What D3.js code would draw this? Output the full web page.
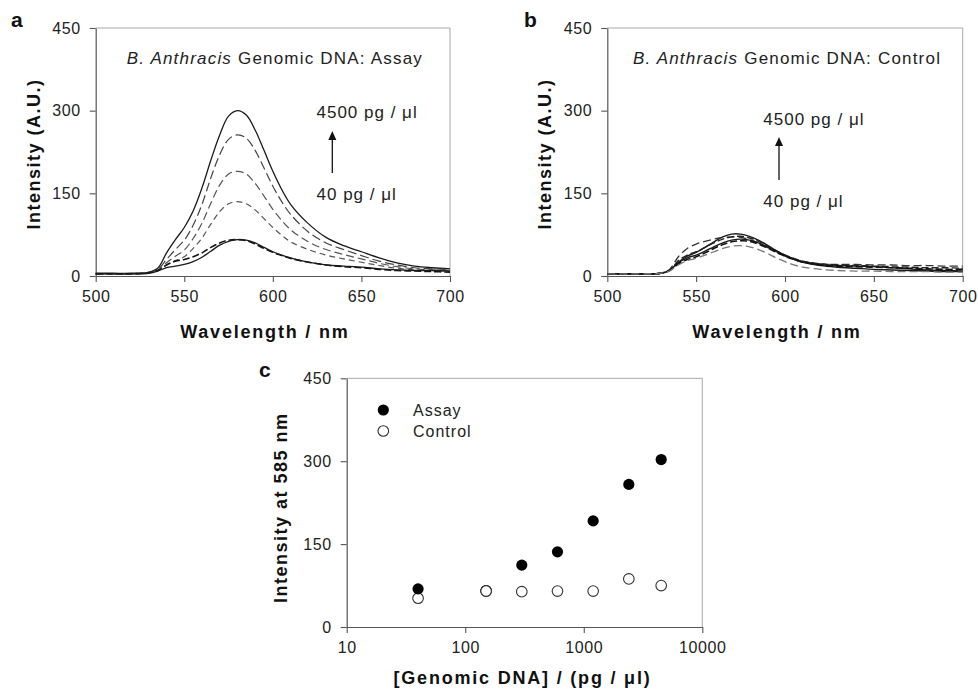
<!DOCTYPE html>
<html>
<head>
<meta charset="utf-8">
<script src="https://cdn.jsdelivr.net/npm/d3@7"></script>
<style>
  html, body { margin: 0; padding: 0; background: #fff; }
  svg { display: block; font-family: Arial, "Liberation Sans", sans-serif; }
</style>
</head>
<body>
<svg id="chart" width="978" height="690"></svg>
<script>
// ---------- DATA ----------
const wavelengths = [500,510,520,530,535,540,545,550,555,560,565,570,575,580,585,590,595,600,605,610,620,630,640,650,660,670,680,690,700];

// Panel a: assay spectra
const assay4500 = [5,5,5,7,14,42,66,88,118,160,210,256,290,300,292,265,228,190,157,130,95,70,55,44,33,24,18,15,13];
const assay2400 = [4,4,4,6,12,30,48,65,92,130,178,220,248,256,250,228,196,163,135,112,80,60,48,37,27,20,15,13,12];
const assay1200 = [4,4,4,6,11,24,36,47,68,96,132,165,185,190,185,168,145,121,101,84,62,48,39,31,23,17,13,11,10];
const assay600  = [4,4,4,6,10,20,28,35,50,69,94,117,131,135,131,120,104,88,74,62,48,38,31,25,19,14,11,10,9];
const assay150  = [4,4,4,6,10,20,27,30,35,42,52,60,65,66,64,58,50,43,37,32,25,20,17,15,12,10,9,8,7];
const assay40   = [4,4,4,5,9,15,18,21,26,34,45,56,63,66,65,60,52,44,38,33,25,20,18,16,13,11,10,10,9];

// Panel b: control spectra
const control4500 = [4,4,4,5,10,25,36,43,52,62,71,76,76,72,65,56,46,38,31,26,21,19,18,17,15,13,11,10,9];
const control2400 = [4,4,4,5,12,35,50,58,63,67,70,71,70,66,60,52,44,36,30,26,22,21,21,20,20,19,19,18,18];
const control1200 = [4,4,4,5,10,28,38,44,52,60,67,71,72,69,63,55,46,38,32,27,22,20,19,18,17,16,15,15,14];
const control600  = [4,4,4,5,10,24,33,38,45,53,60,65,67,65,60,53,45,37,30,25,19,16,14,12,11,10,9,8,8];
const control150  = [4,4,4,5,10,22,30,35,42,50,57,62,64,63,58,51,43,36,30,25,20,18,17,16,15,14,13,12,12];
const control40   = [4,4,4,5,9,20,28,32,38,44,50,54,55,53,48,41,33,26,20,16,12,10,9,9,8,8,8,7,7];

// Panel c: intensity at 585 nm
const concentrations = [40,150,300,600,1200,2400,4500];
const assayPeak   = [69,66,112,136,192,258,303];
const controlPeak = [52,65,64,65,65,87,75];

// Tick labels
const spectraXTicks = [500,550,600,650,700];
const intensityTicks = [0,150,300,450];
const concTicks = [10,100,1000,10000];

// ---------- STYLES ----------
const assayStyles = [
  {data: assay4500, dash: null,  color: "#1a1a1a", width: 1.3},
  {data: assay2400, dash: "9,4", color: "#444", width: 1.2},
  {data: assay1200, dash: "8,4", color: "#555", width: 1.2},
  {data: assay600,  dash: "6,4", color: "#555", width: 1.2},
  {data: assay150,  dash: "7,3", color: "#111", width: 1.6},
  {data: assay40,   dash: null,  color: "#1a1a1a", width: 1.3}
];
const controlStyles = [
  {data: control4500, dash: null,  color: "#1a1a1a", width: 1.4},
  {data: control2400, dash: "8,4", color: "#333", width: 1.3},
  {data: control1200, dash: "7,3", color: "#222", width: 1.4},
  {data: control600,  dash: null,  color: "#1a1a1a", width: 1.4},
  {data: control150,  dash: "7,3", color: "#111", width: 1.6},
  {data: control40,   dash: "8,4", color: "#777", width: 1.3}
];

const svg = d3.select("#chart");
const FONT = 'Arial, "Liberation Sans", sans-serif';

function frame(g, x0, x1, y0, y1) {
  // top and right borders gray
  g.append("path").attr("d", `M${x0},${y1}H${x1}V${y0}`)
    .attr("fill", "none").attr("stroke", "#a8a8a8").attr("stroke-width", 1);
}

function styleAxis(ax) {
  ax.select(".domain").attr("stroke", "#555").attr("stroke-width", 1.2);
  ax.selectAll(".tick line").attr("stroke", "#555").attr("stroke-width", 1.1);
  ax.selectAll(".tick text").attr("fill", "#222")
    .style("font-size", "16px").style("font-family", FONT).style("letter-spacing", "0.6px");
}

function spectraPanel(opts) {
  const {left, right, top, bottom, series, title, letter, letterX, annot} = opts;
  const g = svg.append("g");
  const x = d3.scaleLinear().domain([500, 700]).range([left, right]);
  const y = d3.scaleLinear().domain([0, 450]).range([bottom, top]);

  frame(g, left, right, bottom, top);

  const xa = g.append("g").attr("transform", `translate(0,${bottom})`)
    .call(d3.axisBottom(x).tickValues(spectraXTicks).tickSize(6).tickSizeOuter(0).tickPadding(9));
  styleAxis(xa);
  const ya = g.append("g").attr("transform", `translate(${left},0)`)
    .call(d3.axisLeft(y).tickValues(intensityTicks).tickSize(6).tickSizeOuter(0).tickPadding(9));
  styleAxis(ya);

  const line = d3.line()
    .x((d, i) => x(wavelengths[i]))
    .y(d => y(d))
    .curve(d3.curveCatmullRom.alpha(0.5));

  series.forEach(s => {
    g.append("path").attr("d", line(s.data))
      .attr("fill", "none").attr("stroke", s.color)
      .attr("stroke-width", s.width)
      .attr("stroke-dasharray", s.dash);
  });

  // title inside
  const t = g.append("text").attr("x", (left + right) / 2 + 2).attr("y", top + 36)
    .attr("text-anchor", "middle").style("font-size", "17px").style("letter-spacing", "1.2px")
    .attr("fill", "#222");
  t.append("tspan").style("font-style", "italic").text("B. Anthracis");
  t.append("tspan").text(" Genomic DNA: " + title);

  // annotations
  g.append("text").attr("x", annot.x).attr("y", annot.yTop)
    .style("font-size", "17px").style("letter-spacing", "1px").attr("fill", "#222")
    .text("4500 pg / μl");
  g.append("text").attr("x", annot.x).attr("y", annot.yBottom)
    .style("font-size", "17px").style("letter-spacing", "1px").attr("fill", "#222")
    .text("40 pg / μl");
  g.append("line").attr("x1", annot.ax).attr("x2", annot.ax)
    .attr("y1", annot.ay1).attr("y2", annot.ay0 + 7)
    .attr("stroke", "#111").attr("stroke-width", 1.3);
  g.append("path")
    .attr("d", `M${annot.ax},${annot.ay0}L${annot.ax - 4},${annot.ay0 + 9}L${annot.ax + 4},${annot.ay0 + 9}Z`)
    .attr("fill", "#111");

  // axis titles
  g.append("text").attr("x", (left + right) / 2 - 8).attr("y", bottom + 62)
    .attr("text-anchor", "middle").style("font-size", "18px").style("font-weight", "bold")
    .style("letter-spacing", "1.8px").attr("fill", "#111").text("Wavelength / nm");
  g.append("text")
    .attr("transform", `translate(${left - 56},${(top + bottom) / 2 + 2}) rotate(-90)`)
    .attr("text-anchor", "middle").style("font-size", "18px").style("font-weight", "bold")
    .style("letter-spacing", "1.5px").attr("fill", "#111").text("Intensity (A.U.)");

  // panel letter
  g.append("text").attr("x", letterX).attr("y", 27)
    .style("font-size", "21px").style("font-weight", "bold").attr("fill", "#111").text(letter);
}

spectraPanel({
  left: 95.7, right: 450, top: 28, bottom: 276,
  series: assayStyles, title: "Assay", letter: "a", letterX: 11,
  annot: {x: 316.5, yTop: 118, yBottom: 200, ax: 332.3, ay0: 131, ay1: 173}
});
spectraPanel({
  left: 607.3, right: 962.7, top: 28, bottom: 276,
  series: controlStyles, title: "Control", letter: "b", letterX: 524,
  annot: {x: 763.3, yTop: 125, yBottom: 207, ax: 779, ay0: 137, ay1: 180}
});

// ---------- Panel c ----------
(function () {
  const left = 346.7, right = 702.3, top = 378.3, bottom = 627;
  const g = svg.append("g");
  const x = d3.scaleLog().domain([10, 10000]).range([left, right]);
  const y = d3.scaleLinear().domain([0, 450]).range([bottom, top]);

  frame(g, left, right, bottom, top);

  const xa = g.append("g").attr("transform", `translate(0,${bottom})`)
    .call(d3.axisBottom(x).tickValues(concTicks).tickFormat(d3.format("d"))
      .tickSize(6).tickSizeOuter(0).tickPadding(9));
  styleAxis(xa);
  const ya = g.append("g").attr("transform", `translate(${left},0)`)
    .call(d3.axisLeft(y).tickValues(intensityTicks).tickSize(6).tickSizeOuter(0).tickPadding(9));
  styleAxis(ya);

  // control (open) then assay (filled)
  g.selectAll(".ctrl").data(concentrations).enter().append("circle")
    .attr("cx", d => x(d)).attr("cy", (d, i) => y(controlPeak[i])).attr("r", 5.3)
    .attr("fill", "#fff").attr("stroke", "#333").attr("stroke-width", 1.1);
  g.selectAll(".assay").data(concentrations).enter().append("circle")
    .attr("cx", d => x(d)).attr("cy", (d, i) => y(assayPeak[i])).attr("r", 5.6)
    .attr("fill", "#000");
  // redraw control on top where overlapping at 150 (open circle visible over filled)
  g.append("circle").attr("cx", x(concentrations[1])).attr("cy", y(controlPeak[1])).attr("r", 5.3)
    .attr("fill", "#fff").attr("stroke", "#333").attr("stroke-width", 1.1);

  // legend
  g.append("circle").attr("cx", 383.3).attr("cy", 410).attr("r", 5.6).attr("fill", "#000");
  g.append("circle").attr("cx", 383.3).attr("cy", 431).attr("r", 5.3)
    .attr("fill", "#fff").attr("stroke", "#333").attr("stroke-width", 1.1);
  g.append("text").attr("x", 413).attr("y", 416).style("font-size", "16px")
    .style("letter-spacing", "1px").attr("fill", "#222").text("Assay");
  g.append("text").attr("x", 413).attr("y", 437).style("font-size", "16px")
    .style("letter-spacing", "1px").attr("fill", "#222").text("Control");

  // axis titles
  g.append("text").attr("x", (left + right) / 2 - 2).attr("y", 684)
    .attr("text-anchor", "middle").style("font-size", "18px").style("font-weight", "bold")
    .style("letter-spacing", "1.8px").attr("fill", "#111").text("[Genomic DNA] / (pg / μl)");
  g.append("text")
    .attr("transform", `translate(${left - 60},${(top + bottom) / 2 + 5}) rotate(-90)`)
    .attr("text-anchor", "middle").style("font-size", "18px").style("font-weight", "bold")
    .style("letter-spacing", "1.5px").attr("fill", "#111").text("Intensity at 585 nm");

  g.append("text").attr("x", 259).attr("y", 377)
    .style("font-size", "21px").style("font-weight", "bold").attr("fill", "#111").text("c");
})();
</script>
</body>
</html>
